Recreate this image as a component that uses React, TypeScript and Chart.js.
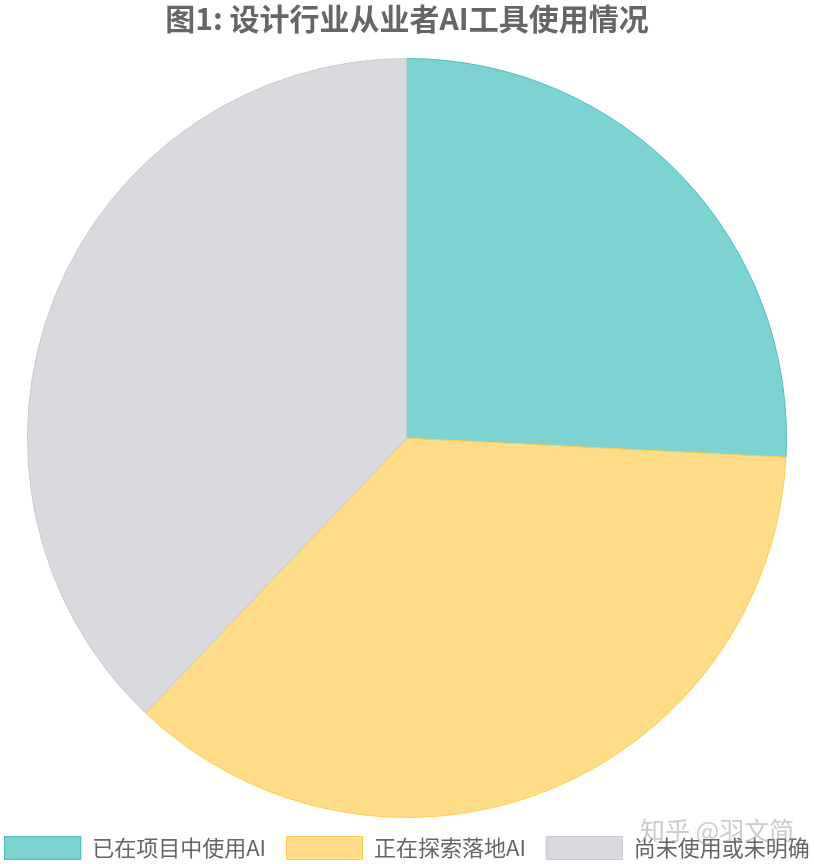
import React, { useEffect, useRef } from "react";
import { Chart, registerables } from "chart.js";

Chart.register(...registerables);

const titleText = "图1: 设计行业从业者AI工具使用情况";
const categories = ["已在项目中使用AI", "正在探索落地AI", "尚未使用或未明确"];
const shares = [25.8, 36.3, 37.9];
const fillColors = ["rgba(75, 192, 192, 0.72)", "rgba(255, 206, 86, 0.7)", "rgba(201, 203, 207, 0.7)"];
const lineColors = ["rgb(75, 192, 192)", "rgb(255, 206, 86)", "rgb(201, 203, 207)"];
const watermark = "知乎 @羽文简";

const FONT = "'Noto Sans CJK SC', 'Noto Sans', sans-serif";

export default function App() {
  const ref = useRef<HTMLCanvasElement | null>(null);
  useEffect(() => {
    document.body.style.margin = "0";
    const ctx = ref.current!.getContext("2d")!;
    const bottomLegend = {
      id: "bottomLegend",
      afterDraw(chart: any) {
        const c = chart.ctx;
        const labels = chart.data.labels as string[];
        const ds = chart.data.datasets[0];
        c.save();
        c.font = `22px ${FONT}`;
        c.textBaseline = "middle";
        const boxW = 77;
        const boxH = 24;
        const y = 848;
        const widths = labels.map((l) => c.measureText(l).width);
        const total = widths.reduce((a, w) => a + boxW + 11 + w, 0) + 20 * (labels.length - 1);
        let x = Math.max(0, (chart.width - total) / 2);
        labels.forEach((l, i) => {
          c.fillStyle = ds.backgroundColor[i];
          c.strokeStyle = ds.borderColor[i];
          c.lineWidth = 1;
          c.fillRect(x, y - boxH / 2, boxW, boxH);
          c.strokeRect(x + 0.5, y - boxH / 2 + 0.5, boxW - 1, boxH - 1);
          x += boxW + 11;
          c.fillStyle = "#666";
          c.fillText(l, x, y);
          x += widths[i] + 20;
        });
        c.font = `25px ${FONT}`;
        c.fillStyle = "rgba(160,160,160,0.55)";
        c.fillText(watermark, 640, 830);
        c.restore();
      },
    };
    const chart = new Chart(ctx, {
      type: "pie",
      data: {
        labels: categories,
        datasets: [
          {
            data: shares,
            backgroundColor: fillColors,
            borderColor: lineColors,
            borderWidth: 1,
          },
        ],
      },
      options: {
        animation: false,
        responsive: false,
        maintainAspectRatio: false,
        layout: { padding: { top: 0, bottom: 46, left: 0, right: 0 } },
        plugins: {
          title: {
            display: true,
            text: titleText,
            color: "#666",
            font: { family: FONT, size: 30, weight: "bold" },
            padding: { top: 1, bottom: 21 },
          },
          legend: { display: false },
          tooltip: { enabled: false },
        },
      },
      plugins: [bottomLegend],
    });
    return () => chart.destroy();
  }, []);
  return (
    <div style={{ position: "absolute", left: 0, top: 0, width: 814, height: 864 }}>
      <canvas ref={ref} width={814} height={864} style={{ width: 814, height: 864 }} />
    </div>
  );
}
